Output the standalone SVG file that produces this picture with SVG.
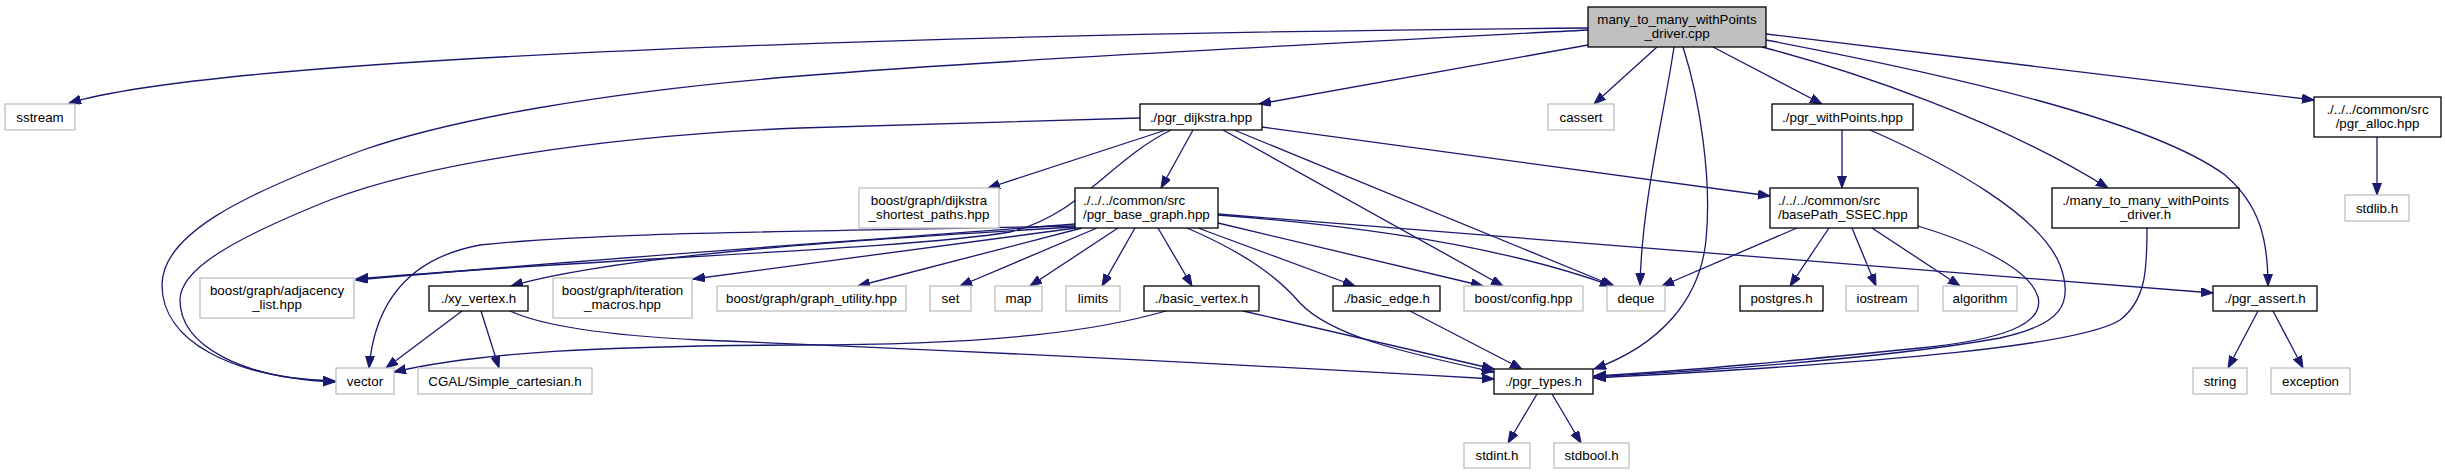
<svg xmlns="http://www.w3.org/2000/svg" width="2445" height="475" viewBox="0 0 2445 475">
<style>
.bg{fill:#ffffff}
.nd rect{fill:#ffffff;stroke:#000000;stroke-width:1.3}
.ex rect{fill:#ffffff;stroke:#bfbfbf;stroke-width:1.3}
.mn rect{fill:#bfbfbf;stroke:#000000;stroke-width:1.3}
text{font-family:"Liberation Sans",Arial,Helvetica,sans-serif;font-size:13.33px;fill:#000000;text-anchor:middle}
text.l{text-anchor:start}
#edges path{fill:none;stroke:#191970;stroke-width:1.3;marker-end:url(#ah)}
</style>
<defs>
<marker id="ah" markerUnits="userSpaceOnUse" markerWidth="14" markerHeight="11" refX="12" refY="4.5" orient="auto">
<path d="M0,0 L12,4.5 L0,9 z" fill="#191970" stroke="#191970" stroke-width="1"/>
</marker>
</defs>
<rect class="bg" x="0" y="0" width="2445" height="475"/>
<g id="edges">
<path d="M1588,28 C1100,32 250,50 69,103"/>
<path d="M1588,30 C1300,45 1000,60 800,76 C600,92 450,120 363,150 C240,195 162,235 162,285 C162,340 230,378 335,381"/>
<path d="M1140,118 C1000,122 900,125 800,128 C600,136 420,165 330,200 C230,240 180,270 180,300 C180,345 240,378 335,382"/>
<path d="M1588,45 L1259,104"/>
<path d="M1657,47 L1594,104"/>
<path d="M1674,47 C1665,110 1642,200 1640,285"/>
<path d="M1683,47 C1700,100 1712,180 1706,240 C1700,300 1660,345 1594,369"/>
<path d="M1713,47 L1822,104"/>
<path d="M1762,47 C1850,70 2000,120 2108,188"/>
<path d="M1766,40 C1950,75 2150,120 2225,175 C2260,205 2268,240 2268,286"/>
<path d="M1766,34 L2314,100"/>
<path d="M2377,137 L2377,195"/>
<path d="M1166,130 L988,188"/>
<path d="M1193,130 L1161,188"/>
<path d="M1171,130 C1110,160 1080,215 1010,232 C900,250 600,258 356,279"/>
<path d="M1223,130 L1503,286"/>
<path d="M1234,130 L1614,286"/>
<path d="M1262,127 L1770,196"/>
<path d="M1075,224 C900,238 600,258 356,280"/>
<path d="M1075,226 C800,232 600,232 480,245 C410,258 375,300 369,368"/>
<path d="M1075,227 C850,240 620,255 511,286"/>
<path d="M1076,228 L693,279"/>
<path d="M1082,228 L858,286"/>
<path d="M1097,228 L960,286"/>
<path d="M1118,228 L1030,286"/>
<path d="M1135,228 L1102,286"/>
<path d="M1158,228 L1192,286"/>
<path d="M1187,228 C1250,255 1280,280 1300,303 C1330,335 1400,352 1494,372"/>
<path d="M1198,228 L1355,286"/>
<path d="M1218,223 L1483,286"/>
<path d="M1218,215 C1350,225 1500,245 1612,286"/>
<path d="M1218,214 L2213,293"/>
<path d="M1797,228 L1662,286"/>
<path d="M1829,228 L1790,286"/>
<path d="M1852,228 L1876,286"/>
<path d="M1872,228 L1960,286"/>
<path d="M1918,226 C1980,245 2030,270 2038,297 C2045,325 2000,340 1920,348 C1800,360 1700,370 1594,376"/>
<path d="M1842,130 L1842,188"/>
<path d="M1870,130 C1950,165 2040,215 2060,265 C2075,305 2060,325 2000,338 C1900,356 1750,368 1594,377"/>
<path d="M2147,228 C2147,270 2146,300 2120,320 C2080,345 1900,362 1594,378"/>
<path d="M1537,394 L1508,443"/>
<path d="M1552,394 L1581,443"/>
<path d="M2258,311 L2228,368"/>
<path d="M2273,311 L2303,368"/>
<path d="M462,311 L386,368"/>
<path d="M481,311 L499,368"/>
<path d="M510,311 C540,325 600,335 700,340 C1000,352 1300,368 1494,379"/>
<path d="M1166,311 C1100,330 1000,345 800,345 C600,346 480,352 394,372"/>
<path d="M1243,311 L1494,369"/>
<path d="M1410,311 L1522,369"/>
</g>
<g id="n0" class="mn"><rect x="1588" y="7" width="178" height="40"/><text x="1677" y="23.5">many_to_many_withPoints</text><text x="1677" y="38">_driver.cpp</text></g>
<g id="n1" class="ex"><rect x="5" y="104" width="70" height="26"/><text x="40" y="121.5">sstream</text></g>
<g id="n2" class="nd"><rect x="1140" y="104" width="122" height="26"/><text x="1201" y="121.5">./pgr_dijkstra.hpp</text></g>
<g id="n3" class="ex"><rect x="1548" y="104" width="66" height="26"/><text x="1581" y="121.5">cassert</text></g>
<g id="n4" class="nd"><rect x="1772" y="104" width="141" height="26"/><text x="1842.5" y="121.5">./pgr_withPoints.hpp</text></g>
<g id="n5" class="nd"><rect x="2314" y="97" width="127" height="40"/><text x="2377.5" y="113.5">./../../common/src</text><text x="2377.5" y="128">/pgr_alloc.hpp</text></g>
<g id="n6" class="ex"><rect x="859" y="188" width="140" height="40"/><text x="929" y="204.5">boost/graph/dijkstra</text><text x="929" y="219">_shortest_paths.hpp</text></g>
<g id="n7" class="nd"><rect x="1075" y="188" width="143" height="40"/><text class="l" x="1083" y="204.5">./../../common/src</text><text class="l" x="1083" y="219">/pgr_base_graph.hpp</text></g>
<g id="n8" class="nd"><rect x="1770" y="188" width="148" height="40"/><text class="l" x="1778" y="204.5">./../../common/src</text><text class="l" x="1778" y="219">/basePath_SSEC.hpp</text></g>
<g id="n9" class="nd"><rect x="2052" y="188" width="187" height="40"/><text x="2145.5" y="204.5">./many_to_many_withPoints</text><text x="2145.5" y="219">_driver.h</text></g>
<g id="n10" class="ex"><rect x="2345" y="195" width="64" height="26"/><text x="2377" y="212.5">stdlib.h</text></g>
<g id="n11" class="ex"><rect x="200" y="278" width="154" height="40"/><text x="277" y="294.5">boost/graph/adjacency</text><text x="277" y="309">_list.hpp</text></g>
<g id="n12" class="nd"><rect x="429" y="286" width="99" height="25"/><text x="478.5" y="303">./xy_vertex.h</text></g>
<g id="n13" class="ex"><rect x="553" y="278" width="139" height="40"/><text x="622.5" y="294.5">boost/graph/iteration</text><text x="622.5" y="309">_macros.hpp</text></g>
<g id="n14" class="ex"><rect x="717" y="286" width="189" height="25"/><text x="811.5" y="303">boost/graph/graph_utility.hpp</text></g>
<g id="n15" class="ex"><rect x="930" y="286" width="41" height="25"/><text x="950.5" y="303">set</text></g>
<g id="n16" class="ex"><rect x="995" y="286" width="47" height="25"/><text x="1018.5" y="303">map</text></g>
<g id="n17" class="ex"><rect x="1066" y="286" width="54" height="25"/><text x="1093" y="303">limits</text></g>
<g id="n18" class="nd"><rect x="1144" y="286" width="115" height="25"/><text x="1201.5" y="303">./basic_vertex.h</text></g>
<g id="n19" class="nd"><rect x="1333" y="286" width="107" height="25"/><text x="1386.5" y="303">./basic_edge.h</text></g>
<g id="n20" class="ex"><rect x="1464" y="286" width="119" height="25"/><text x="1523.5" y="303">boost/config.hpp</text></g>
<g id="n21" class="ex"><rect x="1607" y="286" width="58" height="25"/><text x="1636" y="303">deque</text></g>
<g id="n22" class="nd"><rect x="1740" y="286" width="83" height="25"/><text x="1781.5" y="303">postgres.h</text></g>
<g id="n23" class="ex"><rect x="1846" y="286" width="72" height="25"/><text x="1882" y="303">iostream</text></g>
<g id="n24" class="ex"><rect x="1943" y="286" width="74" height="25"/><text x="1980" y="303">algorithm</text></g>
<g id="n25" class="nd"><rect x="2213" y="286" width="104" height="25"/><text x="2265" y="303">./pgr_assert.h</text></g>
<g id="n26" class="ex"><rect x="336" y="368" width="58" height="26"/><text x="365" y="385.5">vector</text></g>
<g id="n27" class="ex"><rect x="418" y="368" width="174" height="26"/><text x="505" y="385.5">CGAL/Simple_cartesian.h</text></g>
<g id="n28" class="nd"><rect x="1494" y="369" width="99" height="25"/><text x="1543.5" y="386">./pgr_types.h</text></g>
<g id="n29" class="ex"><rect x="2193" y="368" width="54" height="26"/><text x="2220" y="385.5">string</text></g>
<g id="n30" class="ex"><rect x="2271" y="368" width="79" height="26"/><text x="2310.5" y="385.5">exception</text></g>
<g id="n31" class="ex"><rect x="1464" y="443" width="66" height="25"/><text x="1497" y="460">stdint.h</text></g>
<g id="n32" class="ex"><rect x="1554" y="443" width="75" height="25"/><text x="1591.5" y="460">stdbool.h</text></g>
</svg>
